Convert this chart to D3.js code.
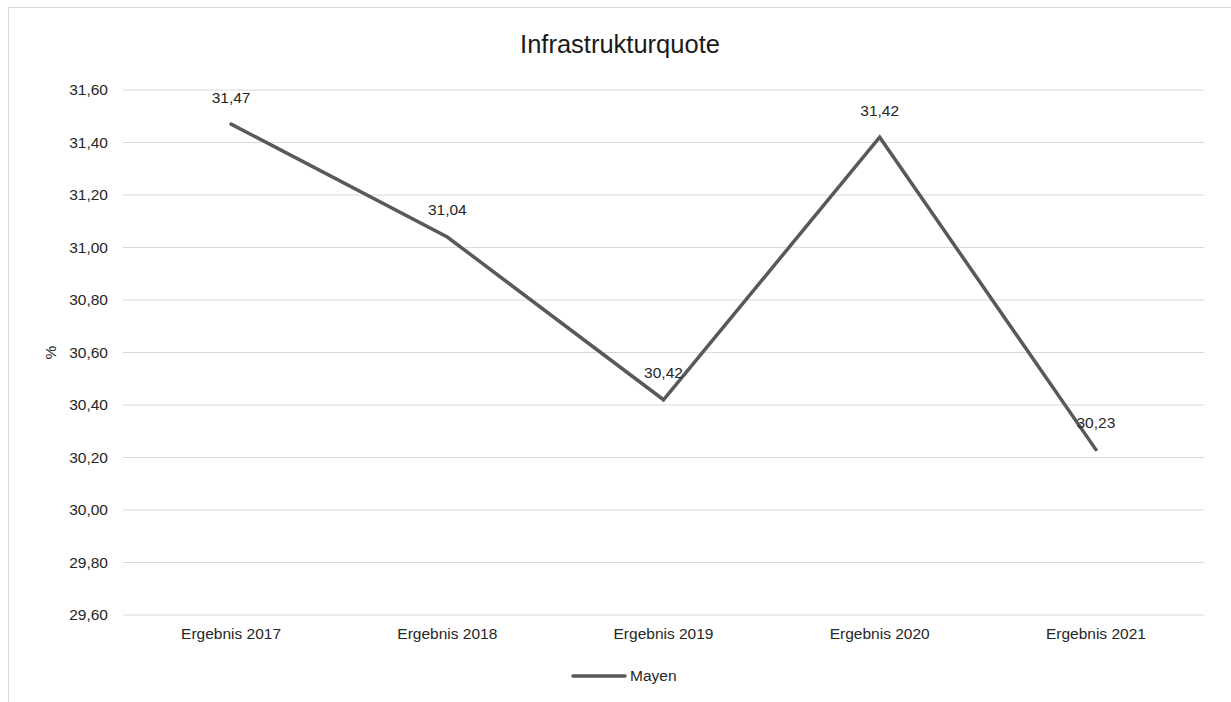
<!DOCTYPE html>
<html><head><meta charset="utf-8">
<script src="https://cdn.jsdelivr.net/npm/d3@7"></script>
<style>body{margin:0;background:#fff;font-family:"Liberation Sans",Arial,sans-serif;}</style>
</head><body><svg id="c" width="1231" height="702"></svg>
<script>
const categories = ["Ergebnis 2017","Ergebnis 2018","Ergebnis 2019","Ergebnis 2020","Ergebnis 2021"];
const values = [31.47, 31.04, 30.42, 31.42, 30.23];
const yTicks = [29.6, 29.8, 30.0, 30.2, 30.4, 30.6, 30.8, 31.0, 31.2, 31.4, 31.6];
const seriesName = "Mayen";
const title = "Infrastrukturquote";

const svg = d3.select("#c");
const fmt = v => d3.format(".2f")(v).replace(".", ",");
const m = {l:123, r:1204, t:90, b:615};
const fs = 15.5;
svg.append("rect").attr("x",8.5).attr("y",7.5).attr("width",1240).attr("height",720)
  .attr("fill","#fff").attr("stroke","#d9d9d9").attr("stroke-width",1);

const x = d3.scaleBand().domain(categories).range([m.l, m.r]);
const y = d3.scaleLinear().domain([29.6, 31.6]).range([m.b, m.t]);

const g = svg.append("g");
g.selectAll("line.grid").data(yTicks).join("line").attr("class","grid")
  .attr("x1",m.l).attr("x2",m.r).attr("y1",d=>y(d)).attr("y2",d=>y(d))
  .attr("stroke","#d9d9d9").attr("stroke-width",1);

g.selectAll("text.yt").data(yTicks).join("text").attr("class","yt")
  .attr("x",m.l-15).attr("y",d=>y(d)).attr("dy","0.35em").attr("text-anchor","end")
  .attr("font-size",fs).attr("fill","#262626").text(fmt);

g.selectAll("text.xt").data(categories).join("text").attr("class","xt")
  .attr("x",d=>x(d)+x.bandwidth()/2).attr("y",m.b+19).attr("dy","0.35em").attr("text-anchor","middle")
  .attr("font-size",fs).attr("fill","#262626").text(d=>d);

svg.append("text").attr("transform",`translate(51,${(m.t+m.b)/2}) rotate(-90)`)
  .attr("text-anchor","middle").attr("dy","0.35em").attr("font-size",fs).attr("fill","#262626").text("%");

svg.append("text").attr("x",620).attr("y",44).attr("dy","0.35em").attr("text-anchor","middle")
  .attr("font-size",25.5).attr("fill","#1a1a1a").text(title);

const line = d3.line().x((d,i)=>x(categories[i])+x.bandwidth()/2).y(d=>y(d));
svg.append("path").datum(values).attr("d",line).attr("fill","none")
  .attr("stroke","#595959").attr("stroke-width",3.5).attr("stroke-linejoin","miter").attr("stroke-linecap","round");

svg.selectAll("text.dl").data(values).join("text").attr("class","dl")
  .attr("x",(d,i)=>x(categories[i])+x.bandwidth()/2).attr("y",d=>y(d)-27).attr("dy","0.35em")
  .attr("text-anchor","middle").attr("font-size",fs).attr("fill","#262626").text(fmt);

const lg = svg.append("g");
lg.append("line").attr("x1",573).attr("x2",625).attr("y1",676).attr("y2",676)
  .attr("stroke","#595959").attr("stroke-width",3.5).attr("stroke-linecap","round");
lg.append("text").attr("x",630).attr("y",676).attr("dy","0.35em").attr("font-size",fs).attr("fill","#262626").text(seriesName);
</script></body></html>
